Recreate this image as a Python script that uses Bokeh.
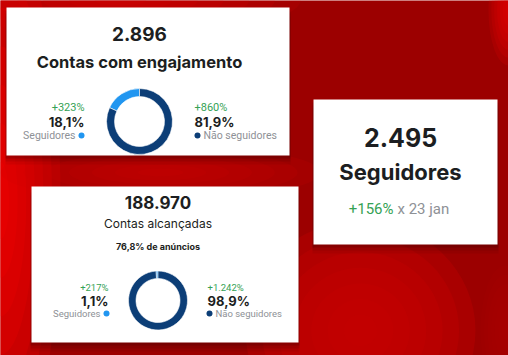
from bokeh.plotting import figure
from bokeh.models import Range1d
from bokeh.embed import file_html
from bokeh.resources import INLINE
from bokeh.core.properties import value
import math

# ---- data ----
card_values = ["2.896", "188.970", "2.495"]
card_titles = ["Contas com engajamento", "Contas alcançadas", "Seguidores"]
ads_note = "76,8% de anúncios"
segment_names = ["Seguidores", "Não seguidores"]
followers_pct = [18.1, 1.1]          # engagement, reach
non_followers_pct = [81.9, 98.9]
followers_growth = ["+323%", "+217%"]
non_followers_growth = ["+860%", "+1.242%"]
total_growth = "+156%"
growth_ref = "x 23 jan"

W, H = 508, 355
LIGHT = "#2196f0"
DARK = "#0c3e77"
GREEN = "#35a255"
TXT = "#1c1e21"
GREY = "#8e9196"
FONT = value("Inter")
SMALL = value("Roboto")

def Y(y):
    return H - y

def fmt(v):
    return f"{v:.1f}".replace(".", ",") + "%"

p = figure(width=W, height=H, x_range=Range1d(0, W), y_range=Range1d(0, H),
           toolbar_location=None, output_backend="svg", min_border=0,
           background_fill_color="#9c0000", border_fill_color="#9c0000")
p.axis.visible = False
p.grid.visible = False
p.outline_line_color = None

# ---- soft background ----
def soft(cx, cy, w, h, color, alpha=0.16, n=7):
    for k in range(n):
        f = 1 - k / n
        p.ellipse(x=[cx], y=[Y(cy)], width=[w * f], height=[h * f],
                  fill_color=color, fill_alpha=alpha, line_color=None)

soft(0, 200, 120, 540, "#f50000", 0.22)
soft(120, 0, 360, 70, "#e00000", 0.15)
soft(360, 330, 230, 220, "#c80000", 0.3)
soft(160, 172, 320, 55, "#cc0000", 0.16)
soft(508, 10, 40, 110, "#e80000", 0.18)
soft(505, 330, 50, 130, "#b00000", 0.15)

# ---- cards (x0, y0, x1, y1 in pixel space) ----
cards = [(6, 7, 289, 155), (31, 186, 298, 342), (313, 99, 497, 244)]
for (x0, y0, x1, y1) in cards:
    for k, a in [(9, 0.08), (6, 0.12), (3, 0.18)]:
        p.quad(left=x0 - 1, right=x1 + 1, top=Y(y0 + k), bottom=Y(y1 + k),
               fill_color="#300000", fill_alpha=a, line_color=None)
    p.quad(left=x0, right=x1, top=Y(y0), bottom=Y(y1), fill_color="white", line_color=None)

def txt(x, y, s, size, color=TXT, align="center", style="normal", font=FONT):
    p.text(x=[x], y=[Y(y)], text=[s], text_font=font, text_font_size=size,
           text_color=color, text_align=align, text_baseline="middle",
           text_font_style=style)

# ---- donut cards ----
donuts = [
    dict(cx=139, cy=121, ro=33, ri=25, title_y=61, val_y=33, val_size="19px", title_size="16.5px",
         title_style="bold", lx=84, rx=194, ly=107, gsize="11px", psize="13px", lsize="10.5px",
         ldot=81, rdot=197, rtext=203, step=14),
    dict(cx=157.5, cy=300, ro=29.5, ri=22, title_y=223, val_y=202, val_size="17px", title_size="12px",
         title_style="normal", lx=108, rx=207, ly=287, gsize="9.5px", psize="13px", lsize="9.5px",
         ldot=106, rdot=209, rtext=215, step=13),
]
for i, d in enumerate(donuts):
    txt(d["cx"], d["val_y"], card_values[i], d["val_size"], style="bold")
    txt(d["cx"], d["title_y"], card_titles[i], d["title_size"], style=d["title_style"])
    if i == 1:
        txt(d["cx"], 246, ads_note, "9px", style="bold")
    a0 = math.pi / 2
    a1 = a0 + followers_pct[i] / 100 * 2 * math.pi
    a2 = a1 + non_followers_pct[i] / 100 * 2 * math.pi
    p.annular_wedge(x=[d["cx"]] * 2, y=[Y(d["cy"])] * 2, inner_radius=d["ri"], outer_radius=d["ro"],
                    start_angle=[a0, a1], end_angle=[a1, a2], fill_color=[LIGHT, DARK],
                    line_color="white", line_width=0.6)
    ly, step = d["ly"], d["step"]
    txt(d["lx"], ly, followers_growth[i], d["gsize"], GREEN, "right", font=SMALL)
    txt(d["lx"], ly + step, fmt(followers_pct[i]), d["psize"], TXT, "right", "bold")
    txt(d["ldot"] - 6, ly + 2 * step, segment_names[0], d["lsize"], GREY, "right", font=SMALL)
    p.scatter(x=[d["ldot"]], y=[Y(ly + 2 * step)], size=6, fill_color=LIGHT, line_color=None)
    txt(d["rx"], ly, non_followers_growth[i], d["gsize"], GREEN, "left", font=SMALL)
    txt(d["rx"], ly + step, fmt(non_followers_pct[i]), d["psize"], TXT, "left", "bold")
    p.scatter(x=[d["rdot"]], y=[Y(ly + 2 * step)], size=6, fill_color=DARK, line_color=None)
    txt(d["rtext"], ly + 2 * step, segment_names[1], d["lsize"], GREY, "left", font=SMALL)

# ---- followers card ----
txt(400, 137, card_values[2], "25px", style="bold")
txt(400, 171, card_titles[2], "22px", style="bold")
txt(393, 208, total_growth, "15px", GREEN, "right", font=SMALL)
txt(397, 208, growth_ref, "15px", GREY, "left", font=SMALL)

open("out.html", "w").write(file_html(p, INLINE))
